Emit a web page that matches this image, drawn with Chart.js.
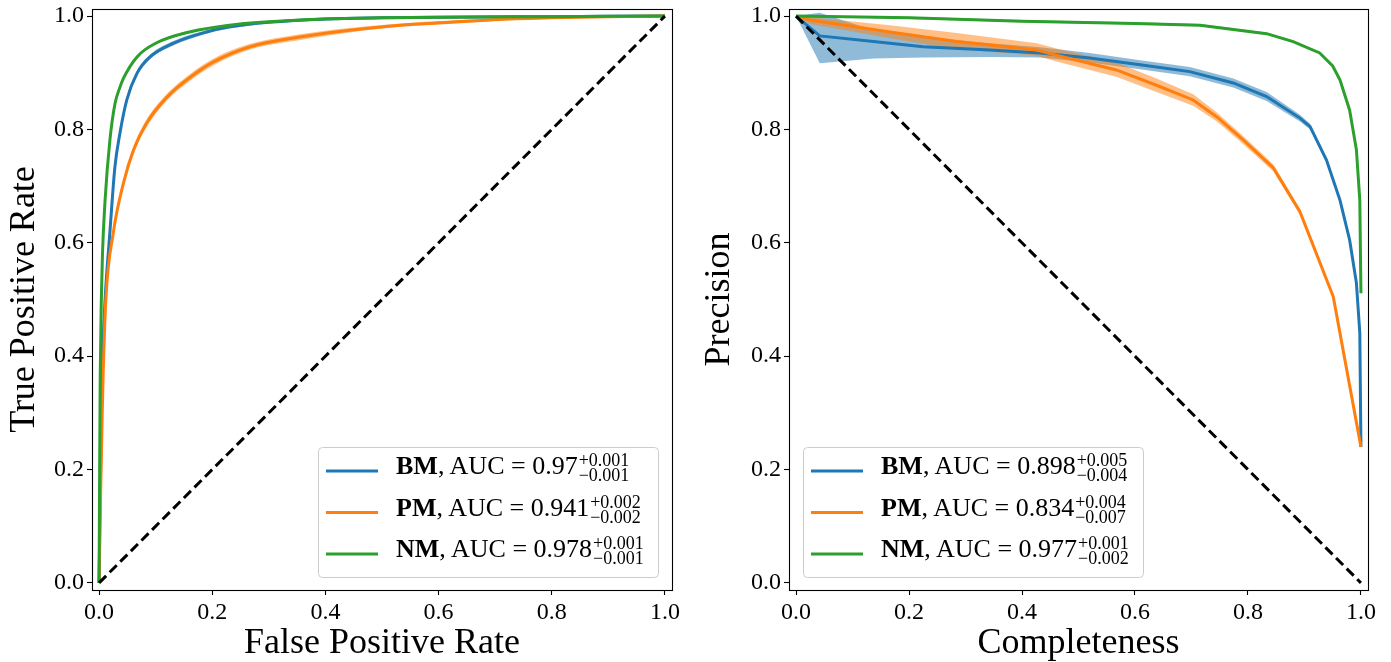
<!DOCTYPE html>
<html><head><meta charset="utf-8">
<script src="https://cdn.jsdelivr.net/npm/chart.js@4.4.1/dist/chart.umd.min.js"></script>
<style>
html,body{margin:0;padding:0;background:#fff;overflow:hidden}
#wrap{position:relative;width:1391px;height:662px}
.box{position:absolute;top:0;height:662px}
#b1{left:0;width:695px}
#b2{left:695px;width:696px}
</style></head><body>
<div id="wrap"><div class="box" id="b1"><canvas id="c1"></canvas></div><div class="box" id="b2"><canvas id="c2"></canvas></div></div>
<script>
// ---------- data ----------
const modelNames = ['BM', 'PM', 'NM'];
const tickValues = [0, 0.2, 0.4, 0.6, 0.8, 1.0];

// ROC curves
const rocBM_fpr = [0, 0.001, 0.002, 0.004, 0.007, 0.0106, 0.019, 0.028, 0.037, 0.049, 0.067, 0.09, 0.131, 0.19, 0.231, 0.3, 0.4, 0.5, 0.6, 0.8, 1.0];
const rocBM_tpr = [0, 0.08, 0.15, 0.3, 0.42, 0.5, 0.617, 0.734, 0.794, 0.852, 0.899, 0.928, 0.952, 0.972, 0.981, 0.989, 0.995, 0.997, 0.998, 0.999, 1.0];
const rocBM_err = [0, 0.005, 0.008, 0.01, 0.01, 0.01, 0.008, 0.007, 0.006, 0.006, 0.005, 0.004, 0.004, 0.003, 0.003, 0.002, 0.002, 0.001, 0.001, 0.001, 0];

const rocPM_fpr = [0, 0.001, 0.002, 0.005, 0.007, 0.012, 0.025, 0.043, 0.061, 0.084, 0.12, 0.161, 0.2, 0.267, 0.355, 0.443, 0.532, 0.62, 0.708, 0.8, 0.9, 1.0];
const rocPM_tpr = [0, 0.06, 0.12, 0.27, 0.36, 0.5, 0.617, 0.705, 0.764, 0.811, 0.857, 0.892, 0.918, 0.946, 0.963, 0.975, 0.984, 0.989, 0.994, 0.997, 0.999, 1.0];
const rocPM_err = [0, 0.005, 0.008, 0.01, 0.01, 0.01, 0.009, 0.008, 0.007, 0.007, 0.006, 0.006, 0.006, 0.005, 0.005, 0.004, 0.003, 0.003, 0.002, 0.002, 0.001, 0];

const rocNM_fpr = [0, 0.0005, 0.001, 0.002, 0.004, 0.006, 0.0106, 0.019, 0.028, 0.036, 0.043, 0.067, 0.1, 0.16, 0.23, 0.3, 0.4, 0.5, 0.6, 0.8, 1.0];
const rocNM_tpr = [0, 0.1, 0.2, 0.36, 0.5, 0.58, 0.675, 0.78, 0.845, 0.872, 0.89, 0.928, 0.952, 0.972, 0.984, 0.99, 0.995, 0.997, 0.998, 0.999, 1.0];
const rocNM_err = [0, 0.003, 0.004, 0.005, 0.005, 0.005, 0.004, 0.004, 0.003, 0.003, 0.003, 0.002, 0.002, 0.002, 0.001, 0.001, 0.001, 0.001, 0, 0, 0];

// Precision / completeness curves
const prBM_comp = [0, 0.042, 0.137, 0.225, 0.343, 0.432, 0.52, 0.609, 0.697, 0.774, 0.833, 0.892, 0.91, 0.939, 0.963, 0.98, 0.992, 0.998, 1.0];
const prBM_prec = [1.0, 0.965, 0.955, 0.946, 0.94, 0.935, 0.926, 0.914, 0.902, 0.882, 0.858, 0.82, 0.805, 0.746, 0.675, 0.605, 0.529, 0.441, 0.24];
const prBM_upper = [1.0, 1.006, 0.975, 0.963, 0.952, 0.945, 0.935, 0.922, 0.91, 0.89, 0.866, 0.826, 0.81, 0.75, 0.678, 0.608, 0.532, 0.444, 0.242];
const prBM_lower = [1.0, 0.917, 0.925, 0.927, 0.928, 0.927, 0.918, 0.906, 0.894, 0.874, 0.85, 0.814, 0.8, 0.742, 0.672, 0.602, 0.526, 0.438, 0.238];

const prPM_comp = [0, 0.025, 0.166, 0.284, 0.426, 0.461, 0.567, 0.638, 0.703, 0.745, 0.792, 0.845, 0.892, 0.951, 1.0];
const prPM_prec = [1.0, 0.993, 0.972, 0.955, 0.94, 0.931, 0.905, 0.878, 0.852, 0.822, 0.781, 0.732, 0.655, 0.505, 0.24];
const prPM_upper = [1.0, 0.998, 0.984, 0.97, 0.952, 0.943, 0.918, 0.89, 0.862, 0.83, 0.788, 0.738, 0.66, 0.508, 0.242];
const prPM_lower = [1.0, 0.986, 0.961, 0.942, 0.93, 0.92, 0.893, 0.866, 0.842, 0.814, 0.774, 0.726, 0.65, 0.502, 0.238];

const prNM_comp = [0, 0.2, 0.4, 0.6, 0.715, 0.833, 0.88, 0.927, 0.95, 0.963, 0.98, 0.992, 0.998, 1.0];
const prNM_prec = [1.0, 0.997, 0.991, 0.987, 0.984, 0.969, 0.955, 0.935, 0.912, 0.887, 0.834, 0.764, 0.675, 0.511];
const prNM_upper = [1.0, 0.999, 0.993, 0.989, 0.986, 0.971, 0.957, 0.937, 0.914, 0.889, 0.836, 0.766, 0.677, 0.513];
const prNM_lower = [1.0, 0.995, 0.989, 0.985, 0.982, 0.967, 0.953, 0.933, 0.91, 0.885, 0.832, 0.762, 0.673, 0.509];

// legend values
const rocAuc = ['0.97', '0.941', '0.978'];
const rocPlus = ['0.001', '0.002', '0.001'];
const rocMinus = ['0.001', '0.002', '0.001'];
const prAuc = ['0.898', '0.834', '0.977'];
const prPlus = ['0.005', '0.004', '0.001'];
const prMinus = ['0.004', '0.007', '0.002'];

// ---------- styling ----------
const COLORS = ['#1f77b4', '#ff7f0e', '#2ca02c'];
const BANDS = ['rgba(31,119,180,0.5)', 'rgba(255,127,14,0.5)', 'rgba(44,160,44,0.5)'];
const FONT = "'Liberation Serif', 'DejaVu Serif', serif";

const pts = (xs, ys) => xs.map((x, i) => ({x: x, y: ys[i]}));

function lineDs(data, color, smooth) {
  return {data, borderColor: color, borderWidth: 3, pointRadius: 0, fill: false,
          cubicInterpolationMode: smooth ? 'monotone' : 'default', tension: 0};
}
function bandPair(xs, up, lo, color, smooth) {
  return [
    {data: pts(xs, up), borderWidth: 0, borderColor: 'rgba(0,0,0,0)', pointRadius: 0,
     backgroundColor: color, fill: '+1', cubicInterpolationMode: smooth ? 'monotone' : 'default', tension: 0},
    {data: pts(xs, lo), borderWidth: 0, borderColor: 'rgba(0,0,0,0)', pointRadius: 0,
     fill: false, cubicInterpolationMode: smooth ? 'monotone' : 'default', tension: 0}
  ];
}

const framePlugin = {
  id: 'frame',
  afterDatasetsDraw(chart) {
    const {ctx, chartArea: a} = chart;
    ctx.save();
    ctx.strokeStyle = '#000';
    ctx.lineWidth = 1.1;
    ctx.strokeRect(Math.round(a.left) + 0.5, Math.round(a.top) + 0.5, Math.round(a.right - a.left), Math.round(a.bottom - a.top));
    ctx.restore();
  }
};

const mathLegend = {
  id: 'mathLegend',
  afterDraw(chart, args, o) {
    const {ctx, chartArea: a} = chart;
    const w = 340, h = 130;
    const x0 = o.corner === 'right' ? a.right - 14 - w : a.left + 14;
    const y0 = a.bottom - 13 - h;
    ctx.save();
    ctx.beginPath();
    if (ctx.roundRect) ctx.roundRect(x0 + 0.5, y0 + 0.5, w, h, 4); else ctx.rect(x0 + 0.5, y0 + 0.5, w, h);
    ctx.fillStyle = 'rgba(255,255,255,0.8)';
    ctx.fill();
    ctx.strokeStyle = '#cccccc';
    ctx.lineWidth = 1;
    ctx.stroke();
    for (let i = 0; i < o.names.length; i++) {
      const ly = y0 + 24 + i * 41.5;
      ctx.strokeStyle = COLORS[i];
      ctx.lineWidth = 3;
      ctx.beginPath();
      ctx.moveTo(x0 + 8, ly);
      ctx.lineTo(x0 + 60, ly);
      ctx.stroke();
      const base = ly + 3;
      let tx = x0 + 78;
      ctx.fillStyle = '#000';
      ctx.textBaseline = 'alphabetic';
      ctx.textAlign = 'left';
      ctx.font = 'bold 26px ' + FONT;
      ctx.fillText(o.names[i], tx, base);
      tx += ctx.measureText(o.names[i]).width;
      ctx.font = '26px ' + FONT;
      const t = ',\u2009AUC = ' + o.auc[i];
      ctx.fillText(t, tx, base);
      tx += ctx.measureText(t).width + 1;
      ctx.font = '18px ' + FONT;
      ctx.fillText('+' + o.plus[i], tx, base - 8);
      ctx.fillText('\u2212' + o.minus[i], tx, base + 7);
    }
    ctx.restore();
  }
};

function makeOptions(xTitle, yTitle, yWidth, legendOpts) {
  const tickCfg = {
    color: '#000', font: {family: FONT, size: 24}, padding: 3,
    callback: v => Number(v).toFixed(1), maxRotation: 0, autoSkip: false
  };
  const gridCfg = {drawOnChartArea: false, drawTicks: true, tickLength: 5, tickColor: '#000', tickWidth: 1.1};
  return {
    responsive: true, maintainAspectRatio: false, animation: false, devicePixelRatio: 1,
    layout: {padding: {top: 9, right: 23, left: 0, bottom: 0}},
    plugins: {legend: {display: false}, tooltip: {enabled: false}, mathLegend: legendOpts},
    scales: {
      x: {type: 'linear', min: -0.0125, max: 1.0125,
          afterBuildTicks: s => { s.ticks = tickValues.map(v => ({value: v})); },
          afterFit: s => { s.height = 72; s.paddingLeft = 0; s.paddingRight = 0; },
          ticks: tickCfg, grid: gridCfg, border: {display: false},
          title: {display: true, text: xTitle, color: '#000', font: {family: FONT, size: 36, lineHeight: 1}, padding: {top: 0, bottom: 0}}},
      y: {type: 'linear', min: -0.0125, max: 1.0125,
          afterBuildTicks: s => { s.ticks = tickValues.map(v => ({value: v})); },
          afterFit: s => { s.width = yWidth; s.paddingTop = 0; s.paddingBottom = 0; },
          ticks: tickCfg, grid: gridCfg, border: {display: false},
          title: {display: true, text: yTitle, color: '#000', font: {family: FONT, size: 36, lineHeight: 1}, padding: {top: 7, bottom: 0}}}
    }
  };
}

const diagROC = {data: pts([0, 1], [0, 1]), borderColor: '#000', borderWidth: 3, borderDash: [10, 5], pointRadius: 0, fill: false};
const diagPR = {data: pts([0, 1], [1, 0]), borderColor: '#000', borderWidth: 3, borderDash: [10, 5], pointRadius: 0, fill: false};

const addErr = (ys, es, s) => ys.map((y, i) => y + s * es[i]);

new Chart(document.getElementById('c1'), {
  type: 'line',
  data: {datasets: [
    diagROC,
    lineDs(pts(rocNM_fpr, rocNM_tpr), COLORS[2], true),
    lineDs(pts(rocPM_fpr, rocPM_tpr), COLORS[1], true),
    lineDs(pts(rocBM_fpr, rocBM_tpr), COLORS[0], true),
    ...bandPair(rocNM_fpr, addErr(rocNM_tpr, rocNM_err, 1), addErr(rocNM_tpr, rocNM_err, -1), BANDS[2], true),
    ...bandPair(rocPM_fpr, addErr(rocPM_tpr, rocPM_err, 1), addErr(rocPM_tpr, rocPM_err, -1), BANDS[1], true),
    ...bandPair(rocBM_fpr, addErr(rocBM_tpr, rocBM_err, 1), addErr(rocBM_tpr, rocBM_err, -1), BANDS[0], true)
  ]},
  options: makeOptions('False Positive Rate', 'True Positive Rate', 92,
    {corner: 'right', names: modelNames, auc: rocAuc, plus: rocPlus, minus: rocMinus}),
  plugins: [framePlugin, mathLegend]
});

new Chart(document.getElementById('c2'), {
  type: 'line',
  data: {datasets: [
    diagPR,
    lineDs(pts(prNM_comp, prNM_prec), COLORS[2], false),
    lineDs(pts(prPM_comp, prPM_prec), COLORS[1], false),
    lineDs(pts(prBM_comp, prBM_prec), COLORS[0], false),
    ...bandPair(prNM_comp, prNM_upper, prNM_lower, BANDS[2], false),
    ...bandPair(prPM_comp, prPM_upper, prPM_lower, BANDS[1], false),
    ...bandPair(prBM_comp, prBM_upper, prBM_lower, BANDS[0], false)
  ]},
  options: makeOptions('Completeness', 'Precision', 94,
    {corner: 'left', names: modelNames, auc: prAuc, plus: prPlus, minus: prMinus}),
  plugins: [framePlugin, mathLegend]
});
</script>
</body></html>
